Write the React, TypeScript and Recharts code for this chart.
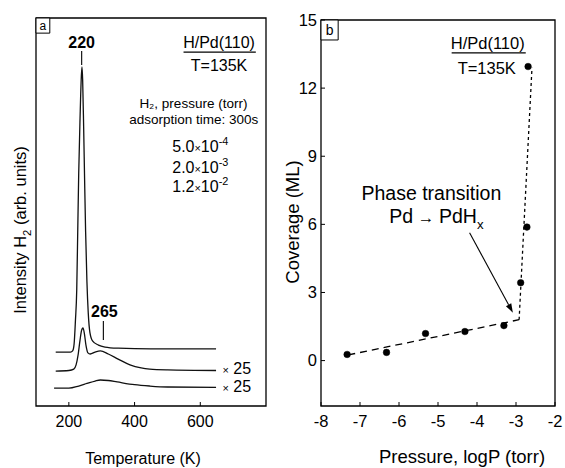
import React from "react";
import { ComposedChart, Line, XAxis, YAxis, ReferenceArea, ReferenceLine, ReferenceDot } from "recharts";

const FONT = '"Liberation Sans", Arial, Helvetica, sans-serif';

// panel a: H2 TPD spectra, temperature (K) vs intensity (arb. units, offset traces)
const tpdHigh = [
  { x: 160, y: 13.9 }, { x: 205, y: 13.9 }, { x: 212, y: 14.3 }, { x: 216, y: 16 },
  { x: 220, y: 22 }, { x: 224, y: 30 }, { x: 227, y: 45 }, { x: 230, y: 60 },
  { x: 234, y: 74 }, { x: 238, y: 85 }, { x: 240, y: 87.4 }, { x: 242, y: 84 },
  { x: 245, y: 72 }, { x: 248, y: 58 }, { x: 251, y: 45 }, { x: 255, y: 32 },
  { x: 259, y: 24 }, { x: 264, y: 19 }, { x: 272, y: 16.8 }, { x: 290, y: 15.7 },
  { x: 310, y: 15.2 }, { x: 350, y: 14.9 }, { x: 450, y: 14.7 }, { x: 648, y: 14.7 },
];
const tpdMid = [
  { x: 160, y: 9.0 }, { x: 200, y: 9.15 }, { x: 215, y: 9.5 }, { x: 222, y: 10.6 },
  { x: 228, y: 13.1 }, { x: 234, y: 17 }, { x: 239, y: 19.6 }, { x: 243, y: 20.1 },
  { x: 247, y: 18.8 }, { x: 252, y: 15.7 }, { x: 258, y: 13.7 }, { x: 265, y: 13.4 },
  { x: 280, y: 13.9 }, { x: 296, y: 14.2 }, { x: 320, y: 13.4 }, { x: 350, y: 12.1 },
  { x: 386, y: 10.6 }, { x: 420, y: 9.8 }, { x: 446, y: 9.5 }, { x: 500, y: 9.3 },
  { x: 648, y: 9.15 },
];
const tpdLow = [
  { x: 155, y: 4.6 }, { x: 200, y: 4.6 }, { x: 230, y: 5.15 }, { x: 255, y: 5.8 },
  { x: 280, y: 6.44 }, { x: 296, y: 6.7 }, { x: 320, y: 6.57 }, { x: 347, y: 6.2 },
  { x: 400, y: 5.5 }, { x: 446, y: 5.15 }, { x: 500, y: 4.9 }, { x: 648, y: 4.8 },
];
const tempTicks = [200, 400, 600];

// panel b: coverage (ML) vs log pressure (torr)
const coverage = [
  { x: -7.33, y: 0.27 }, { x: -6.32, y: 0.36 }, { x: -5.32, y: 1.19 }, { x: -4.31, y: 1.28 },
  { x: -3.31, y: 1.54 }, { x: -2.88, y: 3.43 }, { x: -2.72, y: 5.88 }, { x: -2.69, y: 12.95 },
];
const fitLow = [{ x: -7.3, y: 0.25 }, { x: -2.92, y: 1.8 }];
const fitHigh = [{ x: -2.92, y: 1.8 }, { x: -2.59, y: 12.9 }];
const pressureTicks = [-8, -7, -6, -5, -4, -3, -2];
const coverageTicks = [0, 3, 6, 9, 12, 15];

type Part = [string, "n" | "sup" | "sub" | "sm" | "ar"];
type Note = { x: number; y: number; parts: Part[]; size: number; bold?: boolean };

const notesA: Note[] = [
  { x: 239, y: 93.6, parts: [["220", "n"]], size: 16, bold: true },
  { x: 308, y: 24.5, parts: [["265", "n"]], size: 16, bold: true },
  { x: 657, y: 93.6, parts: [["H/Pd(110)", "n"]], size: 16 },
  { x: 657, y: 87.9, parts: [["T=135K", "n"]], size: 16 },
  { x: 579, y: 78.0, parts: [["H₂, pressure (torr)", "n"]], size: 13.5 },
  { x: 580, y: 74.0, parts: [["adsorption time: 300s", "n"]], size: 13.5 },
  { x: 600, y: 67.0, parts: [["5.0", "n"], ["×", "sm"], ["10", "n"], ["-4", "sup"]], size: 16 },
  { x: 600, y: 61.6, parts: [["2.0", "n"], ["×", "sm"], ["10", "n"], ["-3", "sup"]], size: 16 },
  { x: 600, y: 56.6, parts: [["1.2", "n"], ["×", "sm"], ["10", "n"], ["-2", "sup"]], size: 16 },
  { x: 711, y: 9.8, parts: [["×", "sm"], [" 25", "n"]], size: 16 },
  { x: 711, y: 5.0, parts: [["×", "sm"], [" 25", "n"]], size: 16 },
];
const segmentsA = [
  [{ x: 239, y: 91.5 }, { x: 239, y: 87.9 }],
  [{ x: 305, y: 21.9 }, { x: 305, y: 17.0 }],
  [{ x: 549, y: 91.2 }, { x: 769, y: 91.2 }],
];

const notesB: Note[] = [
  { x: -3.725, y: 13.99, parts: [["H/Pd(110)", "n"]], size: 16.5 },
  { x: -3.75, y: 12.89, parts: [["T=135K", "n"]], size: 16.5 },
  { x: -5.17, y: 7.39, parts: [["Phase transition", "n"]], size: 19.5 },
  { x: -5.04, y: 6.34, parts: [["Pd", "n"], [" → ", "ar"], ["PdH", "n"], ["x", "sub"]], size: 19.5 },
];
const underlineB = [{ x: -4.65, y: 13.55 }, { x: -2.75, y: 13.55 }];
const arrowB = [{ x: -4.19, y: 5.63 }, { x: -3.08, y: 2.11 }];

function Rich({ x, y, parts, size, bold, rotate }: { x: number; y: number; parts: Part[]; size: number; bold?: boolean; rotate?: boolean }) {
  let shift = 0;
  const by = y + 0.35 * size;
  return (
    <text
      x={x}
      y={by}
      textAnchor="middle"
      fontSize={size}
      fontFamily={FONT}
      fontWeight={bold ? "bold" : "normal"}
      fill="#000"
      transform={rotate ? `rotate(-90 ${x} ${y})` : undefined}
    >
      {parts.map(([t, k], i) => {
        const target = k === "sup" ? -0.42 * size : k === "sub" ? 0.3 * size : 0;
        const dy = target - shift;
        shift = target;
        const fs = k === "n" ? size : k === "ar" ? 0.85 * size : 0.68 * size;
        return (
          <tspan key={i} dy={dy} fontSize={fs}>
            {t}
          </tspan>
        );
      })}
    </text>
  );
}

function Arrow(p: any) {
  const { x1, y1, x2, y2 } = p;
  const dx = x2 - x1;
  const dy = y2 - y1;
  const len = Math.sqrt(dx * dx + dy * dy);
  const ux = dx / len;
  const uy = dy / len;
  const hl = 9;
  const hw = 3;
  const bx = x2 - ux * hl;
  const by = y2 - uy * hl;
  return (
    <g>
      <line x1={x1} y1={y1} x2={bx} y2={by} stroke="#000" strokeWidth={1.1} />
      <polygon points={`${x2},${y2} ${bx - uy * hw},${by + ux * hw} ${bx + uy * hw},${by - ux * hw}`} fill="#000" />
    </g>
  );
}

const tickStyle = (size: number) => ({ fill: "#000", fontSize: size, fontFamily: FONT });

function PanelA() {
  return (
    <ComposedChart width={280} height={468} margin={{ top: 18, right: 14, bottom: 0, left: 0 }}>
      <XAxis
        dataKey="x"
        type="number"
        domain={[100, 800]}
        ticks={tempTicks}
        allowDataOverflow
        height={62}
        axisLine={false}
        tickSize={-4}
        tickMargin={14}
        tickLine={{ stroke: "#000" }}
        tick={tickStyle(16)}
        label={{
          content: (p: any) => (
            <Rich x={p.viewBox.x + p.viewBox.width / 2 - 8} y={p.viewBox.y + 52} parts={[["Temperature (K)", "n"]]} size={16} />
          ),
        }}
      />
      <YAxis
        type="number"
        domain={[0, 100]}
        allowDataOverflow
        width={36}
        tick={false}
        tickLine={false}
        axisLine={false}
        label={{
          content: (p: any) => (
            <Rich
              x={p.viewBox.x + 20}
              y={p.viewBox.y + p.viewBox.height / 2 + 18}
              parts={[["Intensity H", "n"], ["2", "sub"], [" (arb. units)", "n"]]}
              size={16.5}
              rotate
            />
          ),
        }}
      />
      <ReferenceArea x1={100} x2={800} y1={0} y2={100} fill="none" stroke="#000" strokeWidth={1.3} />
      <ReferenceArea
        x1={100}
        x2={142}
        y1={96.1}
        y2={100}
        fill="#fff"
        fillOpacity={1}
        stroke="#000"
        strokeWidth={1}
        label={{ value: "a", position: "center", fontSize: 12, fontFamily: FONT, fill: "#000" }}
      />
      <Line data={tpdHigh} dataKey="y" type="monotone" dot={false} stroke="#111" strokeWidth={1.3} isAnimationActive={false} />
      <Line data={tpdMid} dataKey="y" type="monotone" dot={false} stroke="#111" strokeWidth={1.3} isAnimationActive={false} />
      <Line data={tpdLow} dataKey="y" type="monotone" dot={false} stroke="#111" strokeWidth={1.3} isAnimationActive={false} />
      {segmentsA.map((s, i) => (
        <ReferenceLine key={"s" + i} segment={s} stroke="#000" strokeWidth={1.1} />
      ))}
      {notesA.map((n, i) => (
        <ReferenceDot
          key={"n" + i}
          x={n.x}
          y={n.y}
          r={0}
          shape={(p: any) => <Rich x={p.cx} y={p.cy} parts={n.parts} size={n.size} bold={n.bold} />}
        />
      ))}
    </ComposedChart>
  );
}

function PanelB() {
  return (
    <ComposedChart width={285} height={468} margin={{ top: 20, right: 10, bottom: 0, left: 0 }}>
      <XAxis
        dataKey="x"
        type="number"
        domain={[-8, -2]}
        ticks={pressureTicks}
        allowDataOverflow
        height={62}
        axisLine={false}
        tickSize={-4}
        tickMargin={13}
        tickLine={{ stroke: "#000" }}
        tick={tickStyle(16.5)}
        label={{
          content: (p: any) => (
            <Rich x={p.viewBox.x + p.viewBox.width / 2 + 24} y={p.viewBox.y + 50.5} parts={[["Pressure, logP (torr)", "n"]]} size={18.5} />
          ),
        }}
      />
      <YAxis
        type="number"
        domain={[-2, 15]}
        ticks={coverageTicks}
        allowDataOverflow
        width={41}
        axisLine={false}
        tickSize={-4}
        tickMargin={8}
        tickLine={{ stroke: "#000" }}
        tick={tickStyle(16.5)}
        label={{
          content: (p: any) => (
            <Rich
              x={p.viewBox.x + 13}
              y={p.viewBox.y + p.viewBox.height / 2 + 9}
              parts={[["Coverage (ML)", "n"]]}
              size={18.5}
              rotate
            />
          ),
        }}
      />
      <ReferenceArea x1={-8} x2={-2} y1={-2} y2={15} fill="none" stroke="#000" strokeWidth={1.3} />
      <ReferenceArea
        x1={-8}
        x2={-7.56}
        y1={14.12}
        y2={15}
        fill="#fff"
        fillOpacity={1}
        stroke="#000"
        strokeWidth={1}
        label={{ value: "b", position: "center", fontSize: 14, fontFamily: FONT, fill: "#000" }}
      />
      <Line data={fitLow} dataKey="y" type="linear" dot={false} stroke="#000" strokeWidth={1.3} strokeDasharray="7 5" isAnimationActive={false} />
      <Line data={fitHigh} dataKey="y" type="linear" dot={false} stroke="#000" strokeWidth={1.3} strokeDasharray="3 3" isAnimationActive={false} />
      <Line
        data={coverage}
        dataKey="y"
        stroke="none"
        strokeWidth={0}
        dot={{ r: 3.3, fill: "#000", stroke: "#000", strokeWidth: 0.5 }}
        isAnimationActive={false}
      />
      <ReferenceLine segment={underlineB} stroke="#000" strokeWidth={1.1} />
      <ReferenceLine segment={arrowB} shape={(p: any) => <Arrow {...p} />} />
      {notesB.map((n, i) => (
        <ReferenceDot
          key={"n" + i}
          x={n.x}
          y={n.y}
          r={0}
          shape={(p: any) => <Rich x={p.cx} y={p.cy} parts={n.parts} size={n.size} bold={n.bold} />}
        />
      ))}
    </ComposedChart>
  );
}

export default function App() {
  return (
    <div style={{ position: "absolute", left: 0, top: 0, width: 565, height: 468, background: "#fff" }}>
      <div style={{ position: "absolute", left: 0, top: 0 }}>
        <PanelA />
      </div>
      <div style={{ position: "absolute", left: 280, top: 0 }}>
        <PanelB />
      </div>
    </div>
  );
}
